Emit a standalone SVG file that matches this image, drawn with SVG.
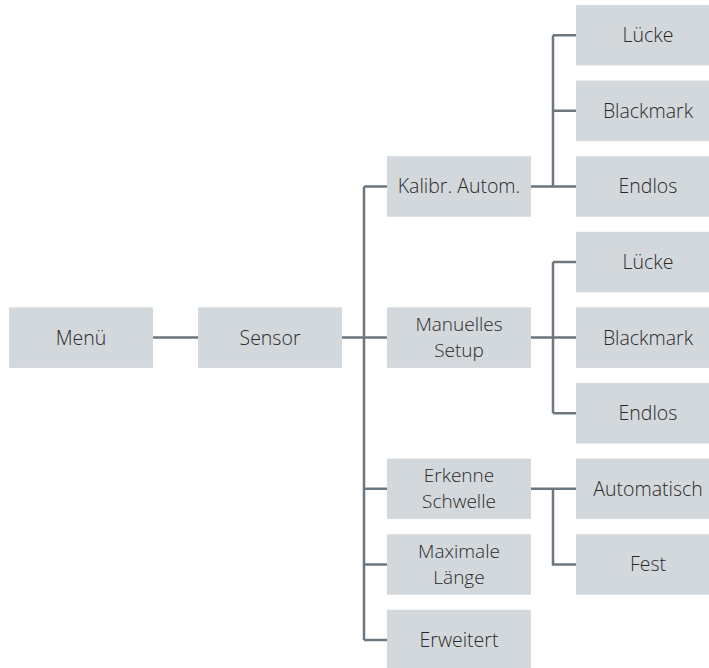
<svg xmlns="http://www.w3.org/2000/svg" width="709" height="668" viewBox="0 0 709 668">
<style>
.box{fill:#d3d8dc}
.t{font-family:"Open Sans","Noto Sans",sans-serif;font-weight:300;font-size:19.5px;fill:#2a2a2a;text-anchor:middle}
.t2{font-size:19px}
.c{stroke:#6b767e;stroke-width:2.5;fill:none;stroke-linecap:butt}
</style>
<rect width="709" height="668" fill="#ffffff"/>
<g id="connectors" class="c">
<path d="M153 337.6H198"/>
<path d="M342 337.6H387"/>
<path d="M364 186.4V640"/>
<path d="M364 186.4H387M364 488.8H387M364 564.4H387M364 640H387"/>
<path d="M531 186.4H576M553 35.2V186.4M553 35.2H576M553 110.8H576"/>
<path d="M531 337.6H576M553 262V413.2M553 262H576M553 413.2H576"/>
<path d="M531 488.8H576M553 488.8V564.4H576"/>
</g>
<g id="menu"><rect class="box" x="9" y="307.4" width="144" height="60.5"/><text class="t" x="81" y="344.5">Menü</text></g>
<g id="sensor"><rect class="box" x="198" y="307.4" width="144" height="60.5"/><text class="t" x="270" y="344.5">Sensor</text></g>
<g id="kalibr"><rect class="box" x="387" y="156.2" width="144" height="60.5"/><text class="t" x="459" y="193.3">Kalibr. Autom.</text></g>
<g id="manuell"><rect class="box" x="387" y="307.4" width="144" height="60.5"/><text class="t t2" x="459" y="331">Manuelles</text><text class="t t2" x="459" y="357">Setup</text></g>
<g id="erkenne"><rect class="box" x="387" y="458.6" width="144" height="60.5"/><text class="t t2" x="459" y="482.2">Erkenne</text><text class="t t2" x="459" y="508.2">Schwelle</text></g>
<g id="maximale"><rect class="box" x="387" y="534.2" width="144" height="60.5"/><text class="t t2" x="459" y="557.8">Maximale</text><text class="t t2" x="459" y="583.8">Länge</text></g>
<g id="erweitert"><rect class="box" x="387" y="609.8" width="144" height="60.5"/><text class="t" x="459" y="646.9">Erweitert</text></g>
<g id="luecke1"><rect class="box" x="576" y="5" width="144" height="60.5"/><text class="t" x="648" y="42.1">Lücke</text></g>
<g id="blackmark1"><rect class="box" x="576" y="80.6" width="144" height="60.5"/><text class="t" x="648" y="117.7">Blackmark</text></g>
<g id="endlos1"><rect class="box" x="576" y="156.2" width="144" height="60.5"/><text class="t" x="648" y="193.3">Endlos</text></g>
<g id="luecke2"><rect class="box" x="576" y="231.8" width="144" height="60.5"/><text class="t" x="648" y="268.9">Lücke</text></g>
<g id="blackmark2"><rect class="box" x="576" y="307.4" width="144" height="60.5"/><text class="t" x="648" y="344.5">Blackmark</text></g>
<g id="endlos2"><rect class="box" x="576" y="383" width="144" height="60.5"/><text class="t" x="648" y="420.1">Endlos</text></g>
<g id="automatisch"><rect class="box" x="576" y="458.6" width="144" height="60.5"/><text class="t" x="648" y="495.7">Automatisch</text></g>
<g id="fest"><rect class="box" x="576" y="534.2" width="144" height="60.5"/><text class="t" x="648" y="571.3">Fest</text></g>
</svg>
